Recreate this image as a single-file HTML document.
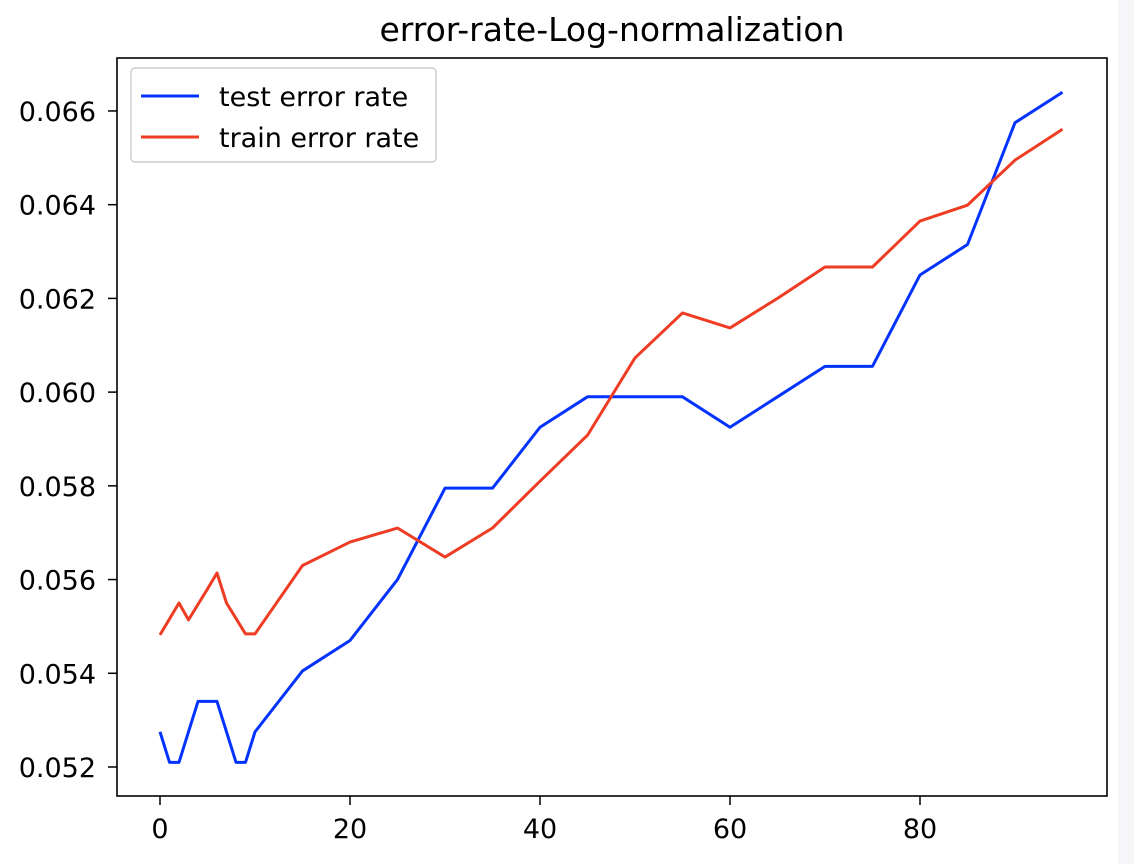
<!DOCTYPE html>
<html><head><meta charset="utf-8"><style>
body{margin:0;background:#fff;}
svg{display:block;font-family:"DejaVu Sans","Liberation Sans",sans-serif;}
</style></head><body>
<svg id="chart" width="1134" height="864">
<rect x="1118" y="0" width="16" height="864" fill="#f6f6f8"/>
<text x="612" y="41" font-size="33" text-anchor="middle">error-rate-Log-normalization</text>
<g id="plot"></g>
</svg>
<script>
const xs=[0,1,2,3,4,5,6,7,8,9,10,15,20,25,30,35,40,45,50,55,60,65,70,75,80,85,90,95];
const testErr=[0.05275,0.0521,0.0521,0.05275,0.0534,0.0534,0.0534,0.05275,0.0521,0.0521,0.05275,0.05405,0.0547,0.0560,0.05795,0.05795,0.05925,0.0599,0.0599,0.0599,0.05925,0.0599,0.06055,0.06055,0.0625,0.06315,0.06575,0.0664];
const trainErr=[0.05482,0.05516,0.0555,0.05514,0.05547,0.0558,0.05614,0.0555,0.05517,0.05484,0.05484,0.0563,0.0568,0.0571,0.05648,0.0571,0.0581,0.05908,0.06073,0.06169,0.06137,0.062,0.06267,0.06267,0.06365,0.06399,0.06495,0.06561];
const xTicks=[0,20,40,60,80];
const yTicks=[0.052,0.054,0.056,0.058,0.060,0.062,0.064,0.066];
const NS='http://www.w3.org/2000/svg';
const L=117,R=1107,T=58,B=796;
const sx=v=>160+v*9.5;
const sy=v=>767-(v-0.052)*46860;
const g=document.getElementById('plot');
function mk(t,a){const e=document.createElementNS(NS,t);for(const k in a)e.setAttribute(k,a[k]);g.appendChild(e);return e;}
let f=mk('rect',{x:L,y:T,width:R-L,height:B-T,fill:'none',stroke:'#000','stroke-width':1.6});


xTicks.forEach(v=>{
 let t=mk('line',{x1:sx(v),x2:sx(v),y1:B,y2:B+9,stroke:'#000','stroke-width':1.5});
 
 
 let l=mk('text',{x:sx(v),y:838,'font-size':27,'text-anchor':'middle'});l.textContent=v;
 
 
});
yTicks.forEach(v=>{
 let t=mk('line',{x1:L-9,x2:L,y1:sy(v),y2:sy(v),stroke:'#000','stroke-width':1.5});
 
 
 let l=mk('text',{x:L-21,y:sy(v)+10,'font-size':27,'text-anchor':'end'});l.textContent=v.toFixed(3);
 
 
});
function line(ys,c,n){
 let p=mk('polyline',{points:xs.map((x,i)=>sx(x)+','+sy(ys[i])).join(' '),fill:'none',stroke:c,'stroke-width':3,'stroke-linejoin':'round'});
 
 
}
line(testErr,'#0433ff','test-error-line');
line(trainErr,'#ee3d24','train-error-line');
let lb=mk('rect',{x:131,y:68,width:305,height:94,rx:4,fill:'#fff',stroke:'#ccc','stroke-width':1.4});


[['test error rate','#0433ff',96],['train error rate','#ee3d24',137]].forEach(([t,c,y])=>{
 let s=mk('line',{x1:141,x2:199,y1:y,y2:y,stroke:c,'stroke-width':3});
 
 
 let l=mk('text',{x:219,y:y+10,'font-size':27});l.textContent=t;
 
 
});
</script>
</body></html>
